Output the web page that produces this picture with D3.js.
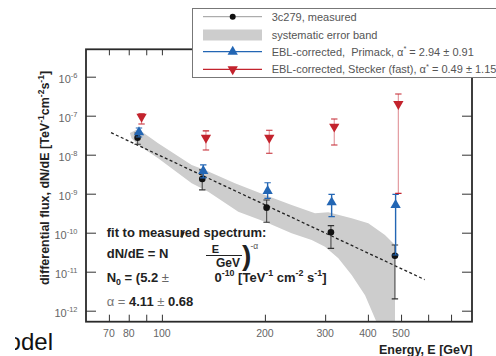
<!DOCTYPE html>
<html>
<head>
<meta charset="utf-8">
<script src="https://cdn.jsdelivr.net/npm/d3@7"></script>
<style>
  html, body { margin: 0; padding: 0; background: #fff; }
  svg { display: block; font-family: "Liberation Sans", Arial, Helvetica, sans-serif; }
</style>
</head>
<body>
<svg id="chart" width="496" height="356"></svg>
<script>
// ---- data -------------------------------------------------------------
// 3C 279, measured spectrum
const energyMeasured   = [84.9, 131.2, 202.3, 311.9, 479.8];
const fluxMeasured     = [2.73e-8, 2.38e-9, 4.38e-10, 1.02e-10, 2.57e-11];
const fluxMeasuredHi   = [3.6e-8, 4.06e-9, 6.9e-10, 1.51e-10, 4.84e-11];
const fluxMeasuredLo   = [1.85e-8, 1.25e-9, 1.85e-10, 3.98e-11, 2.0e-12];

// EBL-corrected, Primack
const energyPrimack    = [85.7, 132.1, 203.7, 313.4, 482];
const fluxPrimack      = [3.75e-8, 3.82e-9, 1.17e-9, 6.0e-10, 5.13e-10];
const fluxPrimackHi    = [4.84e-8, 5.45e-9, 1.91e-9, 9.66e-10, 9.66e-10];
const fluxPrimackLo    = [2.84e-8, 2.53e-9, 7.6e-10, 2.57e-10, 2.68e-11];

// EBL-corrected, Stecker (fast)
const energyStecker    = [87.2, 134.5, 206, 319, 491];
const fluxStecker      = [9.42e-8, 2.73e-8, 2.73e-8, 5.23e-8, 2.0e-7];
const fluxSteckerHi    = [1.11e-7, 4.06e-8, 4.23e-8, 8.22e-8, 3.6e-7];
const fluxSteckerLo    = [6.12e-8, 1.32e-8, 1.09e-8, 1.77e-8, 1.02e-9];

// systematic error band outline (upper edge left→right, lower edge right→left)
const bandUpperE = [80.6, 85.2, 97.5, 122.2, 133.6, 163.5, 200.1, 239.4, 280.2, 306.4, 358.6, 401.1, 448.7, 480, 480];
const bandUpperF = [3.6e-8, 4.56e-8, 1.96e-8, 5.44e-9, 4.06e-9, 1.85e-9, 9.27e-10, 5.13e-10, 3.14e-10, 3.33e-10, 2.34e-10, 1.74e-10, 8.73e-11, 4.84e-11, 4e-13];
const bandLowerE = [429, 392.4, 358.6, 327.9, 299.7, 274, 239.4, 200.1, 167.2, 136.6, 122.2, 97.5, 85.2, 81.5];
const bandLowerF = [4e-13, 2.5e-12, 8.2e-12, 2.21e-11, 4.38e-11, 6.5e-11, 9.66e-11, 1.91e-10, 3.45e-10, 1.12e-9, 1.85e-9, 8.09e-9, 1.77e-8, 2.64e-8];

// power-law fit: dN/dE = N0 (E / 200 GeV)^-alpha
const fitN0 = 5.2e-10;
const fitAlpha = 4.11;
const fitEref = 200;
const fitRange = [71, 586];

// axes
const energyDomain = [60, 806];
const fluxDomain = [5.22e-13, 5.04e-6];
const xTickValues = [70, 80, 90, 100, 200, 300, 400, 500, 600, 700];
const xTickLabels = ["70", "80", "", "100", "200", "300", "400", "500", "", ""];
const yTickValues = [1e-12, 1e-11, 1e-10, 1e-9, 1e-8, 1e-7, 1e-6];
const yTickExponents = ["-12", "-11", "-10", "-9", "-8", "-7", "-6"];

const legendLabels = [
  [{t: "3c279, measured"}],
  [{t: "systematic error band"}],
  [{t: "EBL-corrected,\u00a0 Primack, α"}, {t: "*", sup: true}, {t: " = 2.94 ± 0.91"}],
  [{t: "EBL-corrected, Stecker (fast), α"}, {t: "*", sup: true}, {t: " = 0.49 ± 1.15"}]
];

// ---- layout -----------------------------------------------------------
const plot = {left: 86, right: 472, top: 49.3, bottom: 321.7};
const colBlack = "#111", colBlue = "#2366b4", colRed = "#c3232d";

const svg = d3.select("#chart");
const x = d3.scaleLog().domain(energyDomain).range([plot.left, plot.right]);
const y = d3.scaleLog().domain(fluxDomain).range([plot.bottom, plot.top]);

// text with super/subscript runs
function rich(sel, parts, size) {
  let cur = 0;
  parts.forEach(p => {
    const off = p.sup ? -0.42 * size : (p.sub ? 0.28 * size : 0);
    const ts = sel.append("tspan").text(p.t).attr("dy", (off - cur) + "px");
    if (p.sup || p.sub) ts.attr("font-size", (size * 0.68) + "px");
    if (p.weight) ts.attr("font-weight", p.weight);
    if (p.fill) ts.attr("fill", p.fill);
    cur = off;
  });
  return sel;
}

svg.append("defs").append("clipPath").attr("id", "plotClip")
  .append("rect")
  .attr("x", plot.left).attr("y", plot.top)
  .attr("width", plot.right - plot.left).attr("height", plot.bottom - plot.top);

const gPlot = svg.append("g").attr("clip-path", "url(#plotClip)");

// systematic band
const bandPts = bandUpperE.map((e, i) => [e, bandUpperF[i]])
  .concat(bandLowerE.map((e, i) => [e, bandLowerF[i]]));
gPlot.append("path")
  .attr("d", d3.line().x(d => x(d[0])).y(d => y(d[1]))(bandPts) + "Z")
  .attr("fill", "#cdcdcd");

// fit line
const fitPts = fitRange.map(e => [e, fitN0 * Math.pow(e / fitEref, -fitAlpha)]);
gPlot.append("path")
  .attr("d", d3.line().x(d => x(d[0])).y(d => y(d[1]))(fitPts))
  .attr("fill", "none").attr("stroke", "#222")
  .attr("stroke-width", 1.3).attr("stroke-dasharray", "3,2.4");

// error bars + markers
function drawSeries(E, F, hi, lo, opt) {
  const g = gPlot.append("g");
  E.forEach((e, i) => {
    const cx = x(e);
    g.append("line").attr("x1", cx).attr("x2", cx)
      .attr("y1", y(hi[i])).attr("y2", y(lo[i]))
      .attr("stroke", opt.barColor).attr("stroke-width", opt.barWidth);
    [hi[i], lo[i]].forEach(v => {
      g.append("line").attr("x1", cx - 3.2).attr("x2", cx + 3.2)
        .attr("y1", y(v)).attr("y2", y(v))
        .attr("stroke", opt.capColor).attr("stroke-width", 1.2);
    });
  });
  E.forEach((e, i) => {
    if (opt.symbol === "circle") {
      g.append("circle").attr("cx", x(e)).attr("cy", y(F[i])).attr("r", 3.3).attr("fill", opt.color);
    } else {
      g.append("path")
        .attr("d", d3.symbol().type(d3.symbolTriangle).size(46)())
        .attr("transform", `translate(${x(e)},${y(F[i])})${opt.symbol === "down" ? " rotate(180)" : ""}`)
        .attr("fill", opt.color);
    }
  });
}
drawSeries(energyMeasured, fluxMeasured, fluxMeasuredHi, fluxMeasuredLo,
  {symbol: "circle", color: colBlack, barColor: "#555", barWidth: 1.2, capColor: "#333"});
drawSeries(energyPrimack, fluxPrimack, fluxPrimackHi, fluxPrimackLo,
  {symbol: "up", color: colBlue, barColor: colBlue, barWidth: 1.4, capColor: colBlue});
drawSeries(energyStecker, fluxStecker, fluxSteckerHi, fluxSteckerLo,
  {symbol: "down", color: colRed, barColor: "#e39aa0", barWidth: 1.2, capColor: colRed});

// ---- axes -------------------------------------------------------------
function styleAxis(g) {
  g.select(".domain").remove();
  g.selectAll(".tick line").attr("stroke", "#333").attr("stroke-width", 1);
  g.selectAll(".tick text").remove();
}
svg.append("g").attr("transform", `translate(${plot.left},0)`)
  .call(d3.axisLeft(y).tickValues(yTickValues).tickSize(-10)).call(styleAxis);
svg.append("g").attr("transform", `translate(${plot.right},0)`)
  .call(d3.axisRight(y).tickValues(yTickValues).tickSize(-10)).call(styleAxis);
svg.append("g").attr("transform", `translate(0,${plot.bottom})`)
  .call(d3.axisBottom(x).tickValues(xTickValues).tickSize(-7)).call(styleAxis);
svg.append("g").attr("transform", `translate(0,${plot.top})`)
  .call(d3.axisTop(x).tickValues(xTickValues).tickSize(-6)).call(styleAxis);

// frame
svg.append("rect")
  .attr("x", plot.left).attr("y", plot.top)
  .attr("width", plot.right - plot.left).attr("height", plot.bottom - plot.top)
  .attr("fill", "none").attr("stroke", "#2a2a2a").attr("stroke-width", 1.8);

// tick labels
yTickValues.forEach((v, i) => {
  const t = svg.append("text")
    .attr("x", plot.left - 8.5).attr("y", y(v) + 6)
    .attr("text-anchor", "end").attr("font-size", "11px").attr("fill", "#666");
  rich(t, [{t: "10"}, {t: yTickExponents[i], sup: true}], 11);
});
xTickValues.forEach((v, i) => {
  if (!xTickLabels[i]) return;
  svg.append("text")
    .attr("x", x(v)).attr("y", 336.5)
    .attr("text-anchor", "middle").attr("font-size", "10.5px").attr("fill", "#666")
    .text(xTickLabels[i]);
});

// axis titles
svg.append("text")
  .attr("x", 472.5).attr("y", 353.5).attr("text-anchor", "end")
  .attr("font-size", "12.5px").attr("font-weight", "bold").attr("fill", "#222")
  .text("Energy, E [GeV]");
rich(svg.append("text")
  .attr("transform", "translate(49,178) rotate(-90)")
  .attr("text-anchor", "middle")
  .attr("font-size", "12.5px").attr("font-weight", "bold").attr("fill", "#222"),
  [{t: "differential flux, dN/dE [TeV"}, {t: "-1", sup: true}, {t: "cm"}, {t: "-2", sup: true},
   {t: "s"}, {t: "-1", sup: true}, {t: "]"}], 12.5);

// ---- fit annotation ---------------------------------------------------
const ann = svg.append("g").attr("fill", "#222").attr("font-weight", "bold");
ann.append("text").attr("x", 106.7).attr("y", 237).attr("font-size", "13px")
  .text("fit to measured spectrum:");
ann.append("text").attr("x", 106.7).attr("y", 258).attr("font-size", "13px")
  .text("dN/dE = N");
ann.append("line").attr("x1", 183.8).attr("y1", 231.5).attr("x2", 181.3).attr("y2", 237.5)
  .attr("stroke", "#222").attr("stroke-width", 2.2);
ann.append("text").attr("x", 215.5).attr("y", 252.5).attr("font-size", "11px")
  .attr("text-anchor", "middle").text("E");
ann.append("line").attr("x1", 206).attr("x2", 242).attr("y1", 255.5).attr("y2", 255.5)
  .attr("stroke", "#222").attr("stroke-width", 1.2);
ann.append("text").attr("x", 228).attr("y", 266.5).attr("font-size", "12px")
  .attr("text-anchor", "middle").text("GeV");
ann.append("text").attr("x", 242).attr("y", 265).attr("font-size", "28px").text(")");
ann.append("text").attr("x", 250.5).attr("y", 248.5).attr("font-size", "8.5px")
  .attr("font-weight", "normal").attr("fill", "#555").text("-α");
rich(ann.append("text").attr("x", 106.7).attr("y", 281.5).attr("font-size", "13px"),
  [{t: "N"}, {t: "0", sub: true}, {t: " = (5.2 "}, {t: "±", weight: "normal", fill: "#666"}], 13);
rich(ann.append("text").attr("x", 214.5).attr("y", 281.5).attr("font-size", "13px"),
  [{t: "0"}, {t: "-10", sup: true}, {t: " [TeV"}, {t: "-1", sup: true}, {t: " cm"},
   {t: "-2", sup: true}, {t: " s"}, {t: "-1", sup: true}, {t: "]"}], 13);
rich(ann.append("text").attr("x", 106.7).attr("y", 305.5).attr("font-size", "13px"),
  [{t: "α = ", weight: "normal", fill: "#777"}, {t: "4.11"},
   {t: " ± ", weight: "normal", fill: "#777"}, {t: "0.68"}], 13);

// ---- legend -----------------------------------------------------------
const leg = svg.append("g");
leg.append("rect").attr("x", 192.5).attr("y", 8.5).attr("width", 330).attr("height", 69)
  .attr("fill", "#fff").attr("stroke", "#777").attr("stroke-width", 1);
const rowY = [16.7, 35, 51.7, 69.3];
const sx0 = 203, sx1 = 262, sxm = 232.7;
leg.append("line").attr("x1", sx0).attr("x2", sx1).attr("y1", rowY[0]).attr("y2", rowY[0])
  .attr("stroke", "#999").attr("stroke-width", 1);
leg.append("circle").attr("cx", sxm).attr("cy", rowY[0]).attr("r", 3).attr("fill", colBlack);
leg.append("rect").attr("x", sx0).attr("y", rowY[1] - 5.5).attr("width", sx1 - sx0).attr("height", 11)
  .attr("fill", "#cdcdcd");
leg.append("line").attr("x1", sx0).attr("x2", sx1).attr("y1", rowY[2]).attr("y2", rowY[2])
  .attr("stroke", colBlue).attr("stroke-width", 1.3);
leg.append("path").attr("d", d3.symbol().type(d3.symbolTriangle).size(46)())
  .attr("transform", `translate(${sxm},${rowY[2]})`).attr("fill", colBlue);
leg.append("line").attr("x1", sx0).attr("x2", sx1).attr("y1", rowY[3]).attr("y2", rowY[3])
  .attr("stroke", colRed).attr("stroke-width", 1.3);
leg.append("path").attr("d", d3.symbol().type(d3.symbolTriangle).size(46)())
  .attr("transform", `translate(${sxm},${rowY[3]}) rotate(180)`).attr("fill", colRed);
legendLabels.forEach((parts, i) => {
  rich(leg.append("text").attr("x", 271.7).attr("y", rowY[i] + 4)
    .attr("font-size", "11px").attr("fill", "#555"), parts, 11);
});

// ---- page caption fragment (bottom left) ------------------------------
svg.append("defs").append("clipPath").attr("id", "capClip")
  .append("rect").attr("x", 15).attr("y", 300).attr("width", 100).attr("height", 56);
svg.append("text").attr("clip-path", "url(#capClip)")
  .attr("x", 53).attr("y", 350).attr("text-anchor", "end")
  .attr("font-size", "24px").attr("fill", "#111")
  .text("Model");
</script>
</body>
</html>
